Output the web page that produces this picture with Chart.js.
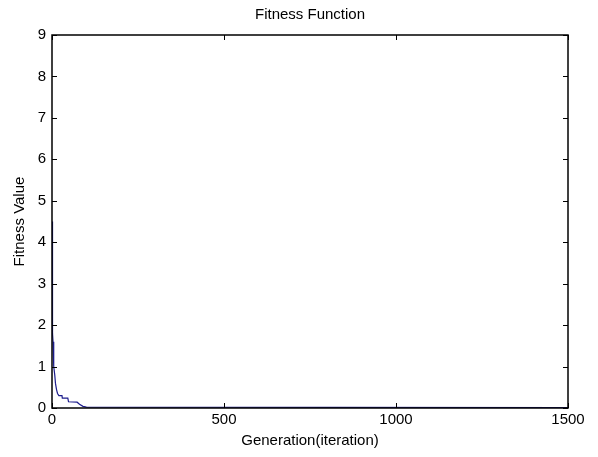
<!DOCTYPE html>
<html>
<head>
<meta charset="utf-8">
<script src="https://cdn.jsdelivr.net/npm/chart.js@4/dist/chart.umd.min.js"></script>
<style>
  html, body { margin: 0; padding: 0; background: #fff; }
  #wrap { width: 598px; height: 457px; }
</style>
</head>
<body>
<div id="wrap"><canvas id="chart" width="598" height="457"></canvas></div>
<script>
// generations and best fitness
const generazioni = [0, 1, 2, 3, 5, 8, 10, 13, 16, 20, 29, 30, 46, 48, 73, 80, 90, 100, 1500];
const fitness = [4.5, 2.9, 1.8, 1.6, 1.0, 0.8, 0.6, 0.45, 0.35, 0.3, 0.3, 0.24, 0.24, 0.15, 0.14, 0.09, 0.04, 0.02, 0.01];
const xTicks = [0, 500, 1000, 1500];

const font = { family: "'Liberation Sans', Arial, sans-serif", size: 15 };
const punti = generazioni.map((g, i) => ({ x: g, y: fitness[i] }));

// box round the plot with inward ticks, like matlab
const boxTicks = {
  id: 'boxTicks',
  afterDraw(chart) {
    const { ctx, chartArea: a, scales } = chart;
    ctx.save();
    ctx.strokeStyle = '#000';
    ctx.lineWidth = 1;
    ctx.beginPath();
    scales.x.ticks.forEach(t => {
      const px = Math.round(scales.x.getPixelForValue(t.value)) + 0.5;
      ctx.moveTo(px, a.bottom); ctx.lineTo(px, a.bottom - 5);
      ctx.moveTo(px, a.top); ctx.lineTo(px, a.top + 5);
    });
    scales.y.ticks.forEach(t => {
      const py = Math.round(scales.y.getPixelForValue(t.value)) + 0.5;
      ctx.moveTo(a.left, py); ctx.lineTo(a.left + 5, py);
      ctx.moveTo(a.right, py); ctx.lineTo(a.right - 5, py);
    });
    ctx.stroke();
    ctx.lineWidth = 1.5;
    ctx.strokeRect(a.left, a.top, a.right - a.left, a.bottom - a.top);
    ctx.restore();
  }
};

const ctx = document.getElementById("chart").getContext("2d");
const chart = new Chart(ctx, {
  type: 'line',
  data: {
    datasets: [{
      data: punti,
      borderColor: '#1c1c8c',
      borderWidth: 1.2,
      pointRadius: 0,
      fill: false,
      tension: 0
    }]
  },
  options: {
    animation: false,
    responsive: false,
    layout: { padding: { left: 0, right: 30, top: 0, bottom: 0 } },
    scales: {
      x: {
        type: 'linear',
        min: 0,
        max: 1500,
        afterBuildTicks: s => { s.ticks = xTicks.map(v => ({ value: v })); },
        afterFit: s => { s.height = 49; },
        grid: { display: false, drawTicks: false },
        border: { display: false },
        ticks: { color: '#000', font: font, padding: 3, maxRotation: 0, callback: v => String(v) },
        title: { display: true, text: "Generation(iteration)", color: '#000', font: font, padding: { top: 0, bottom: 7 } }
      },
      y: {
        min: 0,
        max: 9,
        afterFit: s => { s.width = 52; },
        grid: { display: false, drawTicks: false },
        border: { display: false },
        ticks: { color: '#000', font: font, stepSize: 1, padding: 6 },
        title: { display: true, text: "Fitness Value", color: '#000', font: font, padding: { top: 11, bottom: 0 } }
      }
    },
    plugins: {
      legend: { display: false },
      tooltip: { enabled: false },
      title: {
        display: true,
        fullSize: false,
        text: "Fitness Function",
        color: '#000',
        font: { family: font.family, size: 15, weight: 'normal' },
        padding: { top: 6, bottom: 11 }
      }
    }
  },
  plugins: [boxTicks]
});
</script>
</body>
</html>
